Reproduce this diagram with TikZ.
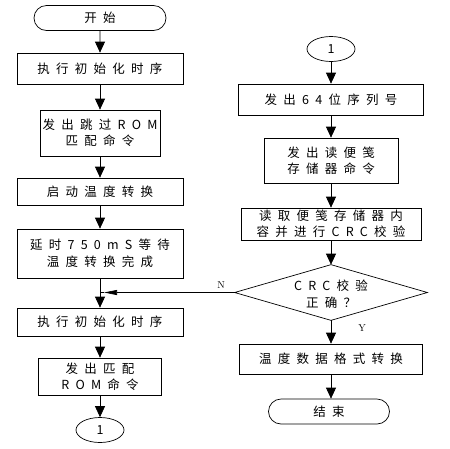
\documentclass[tikz,border=0pt]{standalone}
\usepackage{fontspec}
\newfontfamily\cjk{Noto Sans CJK SC}[LetterSpace=50]
\usetikzlibrary{shapes.geometric,shapes.misc,arrows.meta}
\begin{document}
\begin{tikzpicture}[x=1pt,y=-1pt,
  every node/.style={font=\cjk\fontsize{12.5}{16.5}\selectfont, align=center, inner sep=0pt, line width=0.7pt},
  box/.style={draw, rectangle, minimum height=#1},
  term/.style={draw, rounded rectangle, minimum height=25pt},
  conn/.style={draw, ellipse, minimum width=48pt, minimum height=25pt},
  arr/.style={line width=0.7pt, -{Triangle[length=11pt,width=10pt]}},
]
\useasboundingbox (0,0) rectangle (450,448);
% left column
\node[term, minimum width=132pt] (start) at (100,18) {开始};
\node[box=31pt, minimum width=166pt] (b1) at (100,68.5) {执行初始化时序};
\node[box=46pt, minimum width=120pt] (b2) at (100,133) {发出跳过ROM\\匹配命令};
\node[box=27pt, minimum width=166pt] (b3) at (100,191.5) {启动温度转换};
\node[box=49pt, minimum width=166pt] (b4) at (100,253.5) {延时750mS等待\\温度转换完成};
\node[box=28pt, minimum width=166pt] (b5) at (100,322) {执行初始化时序};
\node[box=37pt, minimum width=123pt] (b6) at (100,376.5) {发出匹配\\ROM命令};
\node[conn] (c1) at (100,430) {1};
% right column
\node[conn] (c2) at (331,49) {1};
\node[box=31pt, minimum width=185pt] (r1) at (331,99.5) {发出64位序列号};
\node[box=45pt, minimum width=134pt] (r2) at (331,160.5) {发出读便笺\\存储器命令};
\node[box=32pt, minimum width=180pt] (r3) at (331,224) {读取便笺存储器内\\容并进行CRC校验};
\node[minimum width=192pt, minimum height=55pt] (dia) at (331,292.5) {};
\draw[line width=0.7pt] (dia.north) -- (dia.east) -- (dia.south) -- (dia.west) -- cycle;
\node (diat) at (331,294) {CRC校验\\正确？};
\node[box=30pt, minimum width=183pt] (r4) at (331,359) {温度数据格式转换};
\node[term, minimum width=121pt] (end) at (329,411.5) {结束};
\node[font=\fontsize{10}{12}\selectfont] (N) at (221,285) {N};
\node[font=\fontsize{10}{12}\selectfont] (Y) at (362,328) {Y};
\coordinate (j) at (100,292.5);
\coordinate (jr) at (104,292.5);
% arrows
\draw[arr] (start) -- (b1);
\draw[arr] (b1) -- (b2);
\draw[arr] (b2) -- (b3);
\draw[arr] (b3) -- (b4);
\draw[arr] (b4) -- (b5);
\draw[arr] (b5) -- (b6);
\draw[arr] (b6) -- (c1);
\draw[arr] (c2) -- (r1);
\draw[arr] (r1) -- (r2);
\draw[arr] (r2) -- (r3);
\draw[arr] (r3) -- (dia.north);
\draw[arr] (dia.south) -- (r4);
\draw[arr] (r4) -- (end.north -| r4);
\draw[line width=0.7pt, -{Triangle[length=13pt,width=5pt]}] (dia.west) -- (jr);
\draw[line width=0.7pt] (jr) -- (j);
\end{tikzpicture}
\end{document}
